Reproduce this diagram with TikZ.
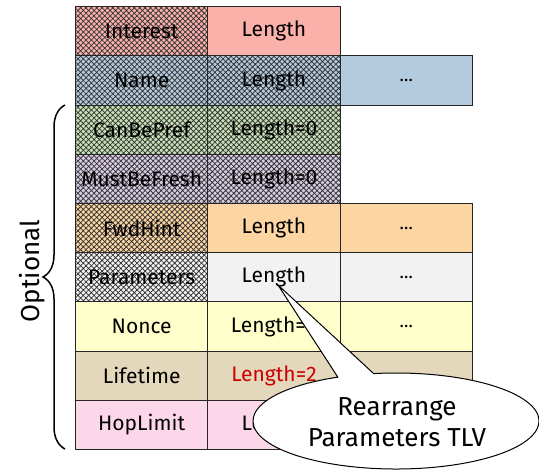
\documentclass[tikz,border=0pt]{standalone}
\usepackage{fontspec}
\setmainfont{Fira Sans}
\usetikzlibrary{patterns.meta,decorations.pathreplacing,calc}

\definecolor{intC}{RGB}{250,177,170}
\definecolor{nameC}{RGB}{180,202,222}
\definecolor{cbpC}{RGB}{198,224,180}
\definecolor{mbfC}{RGB}{215,202,226}
\definecolor{fwdC}{RGB}{252,213,162}
\definecolor{parC}{RGB}{242,242,242}
\definecolor{nonC}{RGB}{255,255,204}
\definecolor{lifC}{RGB}{227,215,188}
\definecolor{hopC}{RGB}{252,215,233}
\definecolor{lenred}{RGB}{204,0,0}

\newcommand{\cellfont}{\fontsize{21bp}{25bp}\selectfont}
\newcommand{\dotsfont}{\fontsize{18bp}{20bp}\selectfont}
\newcommand{\bigfont}{\fontsize{26bp}{31bp}\selectfont}

\tikzset{
  cell/.style={draw=black!85, line width=0.9bp, minimum width=132.3bp,
    minimum height=49.2bp, inner sep=0pt, font=\cellfont},
  hatched/.style={postaction={pattern={Hatch[angle=45,distance=3.8bp,line width=0.75bp]},
    pattern color=black!80}, postaction={draw=black!85, line width=0.9bp}},
  more/.style={cell, font=\dotsfont},
}

\begin{document}
\begin{tikzpicture}[x=1bp,y=-1bp]
\useasboundingbox (0,0) rectangle (539,470);

% column centres: 141.65, 273.95, 406.25
% row 1: Interest
\node[cell, fill=intC, hatched] (int1) at (141.65,31.3) {Interest};
\node[cell, fill=intC] (int2) at (273.95,31.3) {Length};
% row 2: Name
\node[cell, fill=nameC, hatched] (nam1) at (141.65,80.5) {Name};
\node[cell, fill=nameC, hatched] (nam2) at (273.95,80.5) {Length};
\node[more, fill=nameC] (nam3) at (406.25,80.5) {…};
% row 3: CanBePrefix
\node[cell, fill=cbpC, hatched] (cbp1) at (141.65,129.7) {CanBePref};
\node[cell, fill=cbpC, hatched] (cbp2) at (273.95,129.7) {Length=0};
% row 4: MustBeFresh
\node[cell, fill=mbfC, hatched] (mbf1) at (141.65,178.8) {MustBeFresh};
\node[cell, fill=mbfC, hatched] (mbf2) at (273.95,178.8) {Length=0};
% row 5: ForwardingHint
\node[cell, fill=fwdC, hatched] (fwd1) at (141.65,228.0) {FwdHint};
\node[cell, fill=fwdC] (fwd2) at (273.95,228.0) {Length};
\node[more, fill=fwdC] (fwd3) at (406.25,228.0) {…};
% row 6: Parameters
\node[cell, fill=parC, hatched] (par1) at (141.65,277.2) {Parameters};
\node[cell, fill=parC] (par2) at (273.95,277.2) {Length};
\node[more, fill=parC] (par3) at (406.25,277.2) {…};
% row 7: Nonce
\node[cell, fill=nonC] (non1) at (141.65,326.4) {Nonce};
\node[cell, fill=nonC] (non2) at (273.95,326.4) {Length=4};
\node[more, fill=nonC] (non3) at (406.25,326.4) {…};
% row 8: Lifetime
\node[cell, fill=lifC] (lif1) at (141.65,375.6) {Lifetime};
\node[cell, fill=lifC, text=lenred] (lif2) at (273.95,375.6) {Length=2};
\node[more, fill=lifC] (lif3) at (406.25,375.6) {};
% row 9: HopLimit
\node[cell, fill=hopC] (hop1) at (141.65,424.7) {HopLimit};
\node[cell, fill=hopC] (hop2) at (273.95,424.7) {Length};

% optional elements
\coordinate (bb) at (65,449);
\coordinate (bt) at (65,105);
\draw[decorate, decoration={brace, amplitude=22bp}, line width=1.5bp] (bb) -- (bt);
\node[font=\bigfont, rotate=90] (opt) at (32,271) {Optional};

% speech bubble: ellipse centred at (396,421), radii 143 x 48,
% pointer leaves the border at angles -99 and -114
\coordinate (tip) at (278,285);
\coordinate (pr) at ($(396,421)+(-99:143 and 48)$);
\coordinate (pl) at ($(396,421)+(-114:143 and 48)$);
\draw[fill=white, line width=1bp, line join=round]
  (pr) -- (tip) -- (pl) arc[start angle=-114, end angle=-459, x radius=143, y radius=48] -- cycle;
\node[font=\bigfont, align=center, inner sep=0pt] (note) at (397,422)
  {Rearrange\\Parameters TLV};
\end{tikzpicture}
\end{document}
